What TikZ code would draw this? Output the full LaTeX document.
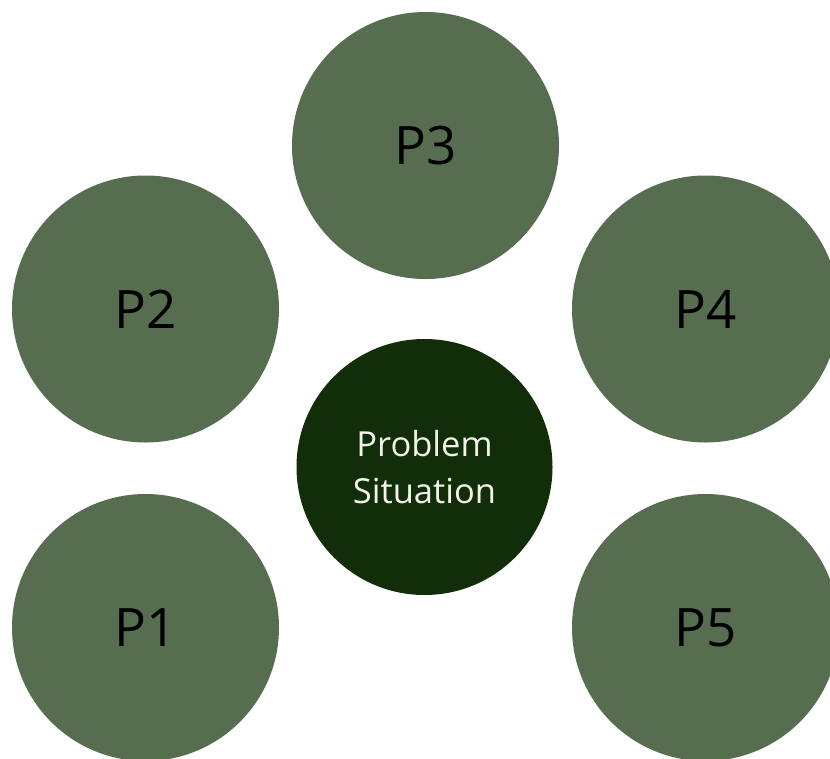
\documentclass[tikz,border=0pt]{standalone}
\usepackage{fontspec}
\setmainfont{Open Sans}
\definecolor{outergreen}{HTML}{566E4F}
\definecolor{innergreen}{HTML}{112E08}
\definecolor{lighttext}{HTML}{F2F2EA}
\begin{document}
\begin{tikzpicture}[x=1pt,y=-1pt,
  outer/.style={circle,fill=outergreen,inner sep=0pt,minimum size=267pt,
    text=black,font=\fontsize{53}{60}\selectfont},
  inner/.style={circle,fill=innergreen,inner sep=0pt,minimum size=256pt,
    text=lighttext,align=center,font=\fontsize{34.5}{47}\selectfont}]
\useasboundingbox (0,0) rectangle (830,758);
\clip (0,0) rectangle (830,758);
\fill[white] (0,0) rectangle (830,758);
\node[outer] (p3) at (425.5,145.5) {P3};
\node[outer] (p2) at (145.5,309) {P2};
\node[outer] (p4) at (705.5,309) {P4};
\node[outer] (p1) at (145.5,627.5) {P1};
\node[outer] (p5) at (705.5,627.5) {P5};
\node[inner] (ps) at (424.5,467) {Problem\\Situation};
\end{tikzpicture}
\end{document}
